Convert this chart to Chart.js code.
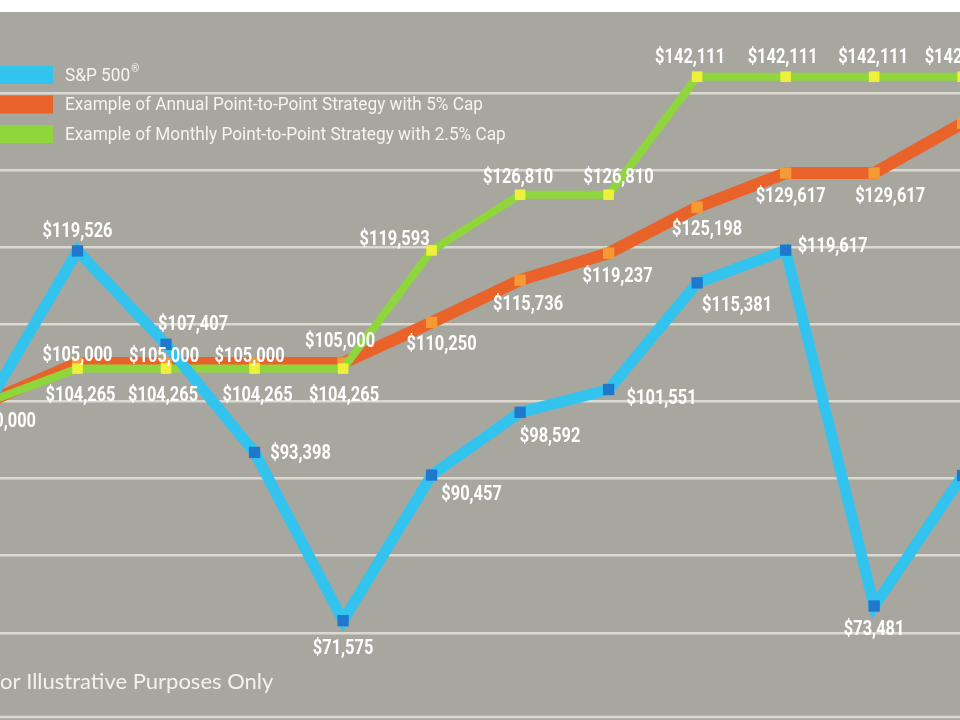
<!DOCTYPE html>
<html lang="en">
<head>
<meta charset="UTF-8">
<title>S&amp;P 500 vs Point-to-Point Strategies</title>
<script src="https://cdn.jsdelivr.net/npm/chart.js"></script>
<style>
  html, body { margin: 0; padding: 0; background: #ffffff; }
  #wrap { position: relative; width: 960px; height: 720px; }
</style>
</head>
<body>
<div id="wrap"><canvas id="growthChart"></canvas></div>
<script>
// data (year 0 .. year 11, last one cut at the right edge)
const years = [0, 1, 2, 3, 4, 5, 6, 7, 8, 9, 10, 11];
const sp500 = [100000, 119526, 107407, 93398, 71575, 90457, 98592, 101551, 115381, 119617, 73481, 90400];
const annualCap = [100000, 105000, 105000, 105000, 105000, 110250, 115736, 119237, 125198, 129617, 129617, 136098];
const monthlyCap = [100000, 104265, 104265, 104265, 104265, 119593, 126810, 126810, 142111, 142111, 142111, 142111];
const seriesNames = [
    'S&P 500',
    'Example of Annual Point-to-Point Strategy with 5% Cap',
    'Example of Monthly Point-to-Point Strategy with 2.5% Cap'
];
// gridline values (no tick labels are printed in the original)
const gridValues = [70000, 80000, 90000, 100000, 110000, 120000, 130000, 140000];
const footNote = 'For Illustrative Purposes Only';

// where each value label sits relative to its point (px), null = no label
const spLabelPos = [[12, 21], [0, -19], [27, -19], [46, 2], [0, 28], [40, 20], [30, 25], [53, 9], [40, 23], [47, -3], [0, 24], null];
const annualLabelPos = [null, [0, -7], [-2, -6], [-5, -6], [-3, -21], [10, 23], [8, 25], [9, 24], [10, 23], [5, 24], [16, 24], null];
const monthlyLabelPos = [null, [3, 27], [-3, 27], [3, 27], [1, 27], [-37, -10], [-2, -17], [10, -17], [-7, -19], [-3, -19], [-1, -19], [-3, -19]];

const colors = {
    bg: '#a8a79f',
    grid: '#d9d9d2',
    sp: '#33c3ef',
    spPoint: '#1f78cc',
    annual: '#e9622a',
    annualPoint: '#f59a35',
    monthly: '#8fd53c',
    monthlyPoint: '#eef03a'
};
const labelFont = 'bold 20px Roboto, sans-serif';
const legendFont = '19px Roboto, sans-serif';

// the original uses a condensed face, so squeeze the text horizontally
function narrowText(c, text, x, y, sx) {
    c.save();
    c.translate(x, y);
    c.scale(sx, 1);
    c.fillText(text, 0, 0);
    c.restore();
}

function toPoints(values) {
    return values.map((v, i) => ({ x: years[i], y: v }));
}

const ctx = document.getElementById('growthChart').getContext('2d');

// gray panel + bottom rule
const panelPlugin = {
    id: 'panel',
    beforeDraw(chart) {
        const c = chart.ctx;
        c.save();
        c.fillStyle = '#ffffff';
        c.fillRect(0, 0, chart.width, chart.height);
        c.fillStyle = colors.bg;
        c.fillRect(0, 12, chart.width, chart.height - 12);
        c.strokeStyle = colors.grid;
        c.lineWidth = 2.5;
        c.beginPath();
        c.moveTo(0, chart.chartArea.bottom - 3);
        c.lineTo(chart.width, chart.chartArea.bottom - 3);
        c.stroke();
        c.restore();
    }
};

// value labels
const labelPlugin = {
    id: 'valueLabels',
    afterDatasetsDraw(chart) {
        const c = chart.ctx;
        c.save();
        c.font = labelFont;
        c.fillStyle = '#ffffff';
        c.textAlign = 'center';
        c.textBaseline = 'middle';
        const sx = 70 / c.measureText('$119,526').width;
        chart.data.datasets.forEach((ds, i) => {
            const meta = chart.getDatasetMeta(i);
            meta.data.forEach((pt, j) => {
                const off = ds.labelPos[j];
                if (!off) return;
                const txt = '$' + ds.data[j].y.toLocaleString('en-US');
                narrowText(c, txt, pt.x + off[0], pt.y + off[1], sx);
            });
        });
        c.restore();
    }
};

// legend in the top-left corner + foot note
const legendPlugin = {
    id: 'cornerLegend',
    afterDraw(chart) {
        const c = chart.ctx;
        const swatches = [colors.sp, colors.annual, colors.monthly];
        c.save();
        c.font = legendFont;
        c.textBaseline = 'middle';
        c.textAlign = 'left';
        const sx = 418 / c.measureText(seriesNames[1]).width;
        seriesNames.forEach((name, i) => {
            const y = 75 + i * 29.5;
            c.fillStyle = swatches[i];
            c.fillRect(-10, y - 9, 63, 18);
            c.fillStyle = '#f4f4f0';
            narrowText(c, name, 65, y + 1, sx);
            if (i === 0) {
                const w = c.measureText(name).width * sx;
                c.font = '10px Roboto, sans-serif';
                c.fillText('®', 65 + w + 1, y - 6);
                c.font = legendFont;
            }
        });
        c.font = '22px Lato, "Open Sans", sans-serif';
        c.fillStyle = '#f2f2ee';
        const fw = c.measureText('F').width;
        c.fillText(footNote, -fw + 1, 682);
        c.restore();
    }
};

const growthChart = new Chart(ctx, {
    type: 'line',
    data: {
        datasets: [
            {
                label: seriesNames[0],
                data: toPoints(sp500),
                labelPos: spLabelPos,
                borderColor: colors.sp,
                backgroundColor: colors.spPoint,
                borderWidth: 11,
                pointStyle: 'rect',
                pointRadius: 8,
                pointBorderWidth: 0,
                order: 0
            },
            {
                label: seriesNames[1],
                data: toPoints(annualCap),
                labelPos: annualLabelPos,
                borderColor: colors.annual,
                backgroundColor: colors.annualPoint,
                borderWidth: 12,
                pointStyle: 'rect',
                pointRadius: 8,
                pointBorderWidth: 0,
                order: 2
            },
            {
                label: seriesNames[2],
                data: toPoints(monthlyCap),
                labelPos: monthlyLabelPos,
                borderColor: colors.monthly,
                backgroundColor: colors.monthlyPoint,
                borderWidth: 8,
                pointStyle: 'rect',
                pointRadius: 7.5,
                pointBorderWidth: 0,
                order: 1
            }
        ]
    },
    options: {
        responsive: true,
        maintainAspectRatio: false,
        animation: false,
        clip: false,
        layout: { padding: 0, autoPadding: false },
        plugins: {
            legend: { display: false },
            tooltip: { enabled: false }
        },
        elements: {
            line: { tension: 0, borderJoinStyle: 'miter', borderCapStyle: 'butt' }
        },
        scales: {
            x: {
                type: 'linear',
                display: false,
                min: 0.124,
                max: 10.97
            },
            y: {
                min: 58700,
                max: 152060,
                ticks: { display: false },
                border: { display: false },
                grid: {
                    drawTicks: false,
                    lineWidth: 2.5,
                    color: colors.grid
                },
                afterBuildTicks(scale) {
                    scale.ticks = gridValues.map(v => ({ value: v }));
                },
                afterFit(scale) { scale.width = 0; }
            }
        }
    },
    plugins: [panelPlugin, labelPlugin, legendPlugin]
});
</script>
</body>
</html>
